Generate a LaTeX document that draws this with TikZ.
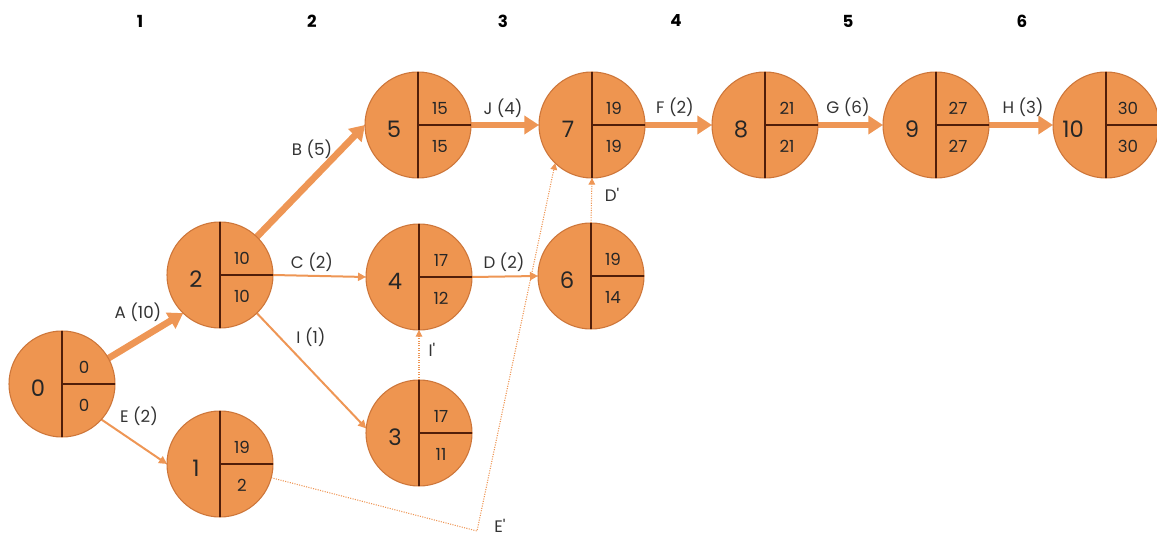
\documentclass[tikz,border=0pt]{standalone}
\usepackage{fontspec}
\setmainfont{Poppins}
\usetikzlibrary{arrows.meta,backgrounds}
\definecolor{evfill}{RGB}{238,149,80}
\definecolor{evborder}{RGB}{205,118,58}
\definecolor{evline}{RGB}{80,30,10}
\definecolor{actarrow}{RGB}{238,150,85}

\begin{document}
\begin{tikzpicture}[x=0.75pt,y=-0.75pt,
    event/.style={circle, draw=evborder, fill=evfill, line width=0.8pt, minimum size=79.5pt, inner sep=0pt, outer sep=0pt},
    divider/.style={draw=evline, line width=1.1pt},
    idnum/.style={font=\fontsize{17}{17}\selectfont, text=black!85},
    timenum/.style={font=\fontsize{12.5}{12.5}\selectfont, text=black!85},
    critical/.style={draw=actarrow, line width=5pt, -{Triangle[length=11pt,width=13.5pt]}},
    activity/.style={draw=actarrow, line width=1.5pt, -{Triangle[length=6pt,width=6pt]}},
    dummy/.style={draw=actarrow, line width=0.8pt, densely dotted, -{Triangle[length=5pt,width=5pt]}},
    lbl/.style={font=\fontsize{12.5}{12.5}\selectfont, text=black!80},
    stage/.style={font=\bfseries\fontsize{12.5}{12.5}\selectfont}
]
    \useasboundingbox (0,0) rectangle (1157,538);

    % stage numbers
    \foreach \s/\sx in {1/140, 2/312, 3/503, 4/676, 5/848, 6/1022}
        \node[stage] (stage\s) at (\sx,21) {\s};

    % events: number / x / y / earliest / latest / offset of the number
    \foreach \n/\px/\py/\t/\b/\ox in {0/62/384/0/0/18, 1/220/464/19/2/18, 2/220/275/10/10/18,
        3/419/433/17/11/18, 4/419/277/17/12/18, 5/418/125/15/15/18, 6/591/276/19/14/18,
        7/592/125/19/19/18, 8/765/125/21/21/18, 9/936/125/27/27/18, 10/1106/125/30/30/24.75}{
        \node[event] (n\n) at (\px,\py) {};
        \draw[divider] (n\n.north) -- (n\n.south) (n\n.center) -- (n\n.east);
        \node[idnum] (id\n) at ([xshift=-\ox pt,yshift=-3pt]n\n.center) {\n};
        \node[timenum] (et\n) at ([xshift=16.5pt,yshift=12.75pt]n\n.center) {\t};
        \node[timenum] (lt\n) at ([xshift=16.5pt,yshift=-15.75pt]n\n.center) {\b};
    }

    % activities
    \begin{scope}[on background layer]
        \draw[critical] (n0.29) -- (n2.226);
        \draw[activity] (n0.-42) -- (n1.180);
        \draw[critical] (n2.46) -- (n5.180);
        \draw[activity] (n2.east) -- (n4.west);
        \draw[activity] (n2.-46) -- (n3.175);
        \draw[critical] (n5.east) -- (n7.west);
        \draw[activity] (n4.east) -- (n6.west);
        \draw[critical] (n7.east) -- (n8.west);
        \draw[critical] (n8.east) -- (n9.west);
        \draw[critical] (n9.east) -- (n10.west);
        \draw[dummy] (n3.north) -- (n4.south);
        \draw[dummy] (n6.north) -- (n7.south);
        \coordinate (ecorner) at (477,531);
        \draw[dummy] (n1.-15) -- (ecorner) -- (n7.226);
    \end{scope}

    % activity labels
    \node[lbl] (la) at (138,312) {A (10)};
    \node[lbl] (le) at (139,416) {E (2)};
    \node[lbl] (lb) at (312,149) {B (5)};
    \node[lbl] (lc) at (312,262) {C (2)};
    \node[lbl] (li) at (311,337) {I (1)};
    \node[lbl] (lj) at (503,108) {J (4)};
    \node[lbl] (ld) at (504,262) {D (2)};
    \node[lbl] (lf) at (675,107) {F (2)};
    \node[lbl] (lg) at (848,107) {G (6)};
    \node[lbl] (lh) at (1023,107) {H (3)};
    \node[lbl] (ldd) at (612,195) {D\textquotesingle};
    \node[lbl] (lid) at (432,350) {I\textquotesingle};
    \node[lbl] (led) at (500,526) {E\textquotesingle};
\end{tikzpicture}
\end{document}
